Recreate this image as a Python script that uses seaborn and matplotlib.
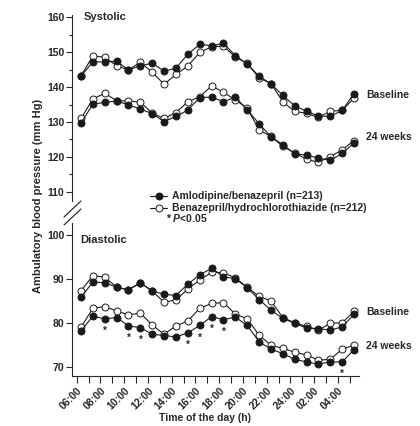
import numpy as np
import pandas as pd
import matplotlib
matplotlib.use("Agg")
import matplotlib.pyplot as plt
from matplotlib.lines import Line2D
import seaborn as sns

# hourly readings, 06:00 -> 05:00
hour_labels = ["06:00", "08:00", "10:00", "12:00", "14:00", "16:00",
               "18:00", "20:00", "22:00", "24:00", "02:00", "04:00"]

sys_base_amlo = [143.1, 147.2, 147.2, 147.4, 144.9, 146.1, 146.8, 144.5, 145.4, 149.4, 152.2, 151.8,
                 152.5, 149.0, 146.6, 143.1, 140.9, 137.6, 134.6, 133.1, 131.7, 131.6, 133.3, 138.1]
sys_base_hctz = [143.2, 148.9, 148.5, 146.1, 144.9, 147.1, 144.2, 140.8, 143.6, 146.0, 149.9, 151.5,
                 151.7, 148.6, 146.8, 142.6, 141.0, 135.8, 133.0, 132.5, 131.3, 133.1, 133.3, 136.8]
sys_24w_amlo = [129.7, 135.1, 135.6, 136.0, 134.9, 133.7, 132.4, 130.1, 131.6, 133.4, 137.0, 137.1,
                135.8, 137.1, 133.5, 129.5, 125.8, 123.5, 120.9, 120.5, 119.7, 119.0, 121.0, 124.0]
sys_24w_hctz = [131.0, 136.6, 138.2, 136.1, 136.0, 135.7, 132.5, 131.0, 132.7, 135.8, 137.2, 140.3,
                138.5, 136.3, 134.0, 127.7, 125.9, 123.0, 121.2, 119.3, 118.5, 120.1, 122.0, 124.7]

dia_base_amlo = [85.8, 89.3, 89.1, 88.1, 87.5, 89.1, 87.2, 86.5, 86.2, 88.8, 90.9, 92.4,
                 90.5, 90.0, 88.0, 85.3, 82.9, 81.0, 79.9, 78.8, 78.7, 78.3, 79.1, 81.9]
dia_base_hctz = [87.3, 90.7, 90.4, 88.1, 87.5, 89.1, 87.2, 84.7, 85.2, 87.7, 89.7, 91.5,
                 91.4, 90.2, 88.1, 86.0, 85.0, 81.2, 80.0, 79.2, 78.3, 79.9, 80.0, 82.6]
dia_24w_amlo = [78.2, 81.5, 80.9, 81.2, 79.3, 78.9, 77.4, 77.1, 76.8, 77.7, 79.4, 81.4,
                80.7, 81.3, 79.4, 75.7, 74.0, 73.0, 71.7, 71.1, 70.6, 71.1, 71.1, 73.9]
dia_24w_hctz = [79.0, 83.3, 83.7, 82.7, 81.8, 82.2, 79.5, 77.4, 79.3, 80.4, 83.3, 84.4,
                84.6, 82.0, 80.9, 77.2, 74.9, 74.2, 73.3, 72.7, 71.5, 71.7, 74.0, 74.9]

# hours (index) where P<0.05 for diastolic at 24 weeks
sig_idx = [2, 4, 5, 9, 10, 11, 12, 22]

sns.set_style("ticks")
plt.rcParams["font.family"] = ["Liberation Sans", "DejaVu Sans"]
plt.rcParams["font.weight"] = "bold"
plt.rcParams["mathtext.fontset"] = "custom"
plt.rcParams["mathtext.it"] = "Liberation Sans:italic:bold"
plt.rcParams["mathtext.rm"] = "Liberation Sans:bold"

xpos = np.arange(24) + 0.36

fig = plt.figure(figsize=(4.2, 4.26), dpi=100)
W, H = 420, 426
ax_top = fig.add_axes([72 / W, 1 - 201 / H, 287 / W, 186 / H])
ax_bot = fig.add_axes([72 / W, 1 - 376 / H, 287 / W, 153 / H])

filled = dict(marker="o", color="#1a1a1a", markerfacecolor="#1a1a1a", markeredgecolor="#1a1a1a",
              markersize=5, markeredgewidth=0.7, linewidth=0.8)
hollow = dict(marker="o", color="#1a1a1a", markerfacecolor="white", markeredgecolor="#1a1a1a",
              markersize=5, markeredgewidth=0.7, linewidth=0.8)

for ax, a_list, h_list in [(ax_top, [sys_base_amlo, sys_24w_amlo], [sys_base_hctz, sys_24w_hctz]),
                           (ax_bot, [dia_base_amlo, dia_24w_amlo], [dia_base_hctz, dia_24w_hctz])]:
    for vals in h_list:
        df = pd.DataFrame({"x": xpos, "y": vals})
        sns.lineplot(data=df, x="x", y="y", ax=ax, **hollow)
    for vals in a_list:
        df = pd.DataFrame({"x": xpos, "y": vals})
        sns.lineplot(data=df, x="x", y="y", ax=ax, **filled)
    ax.set_xlim(-0.4, 23.78)
    ax.set_xlabel("")
    ax.set_ylabel("")
    ax.spines["top"].set_visible(False)
    ax.spines["right"].set_visible(False)
    ax.spines["left"].set_linewidth(0.8)
    ax.spines["bottom"].set_linewidth(0.8)
    ax.tick_params(axis="y", labelsize=7.5, length=4, width=0.8, pad=1.5)

# systolic panel
ax_top.set_ylim(107.4, 160.6)
ax_top.set_yticks([110, 120, 130, 140, 150, 160])
ax_top.set_yticks([115, 125, 135, 145, 155], minor=True)
ax_top.tick_params(axis="y", which="minor", length=2, width=0.8)
ax_top.spines["bottom"].set_visible(False)
ax_top.set_xticks([])
ax_top.text(0.04, 160, "Systolic", fontsize=8, va="center", ha="left",
            transform=ax_top.get_yaxis_transform())
ax_top.text(1.025, 137.7, "Baseline", fontsize=7.5, va="center", ha="left",
            transform=ax_top.get_yaxis_transform())
ax_top.text(1.025, 125.7, "24 weeks", fontsize=7.5, va="center", ha="left",
            transform=ax_top.get_yaxis_transform())

# diastolic panel
ax_bot.set_ylim(67.9, 102.7)
ax_bot.set_yticks([70, 80, 90, 100])
ax_bot.set_xticks(np.arange(24), minor=True)
ax_bot.set_xticks(np.arange(0, 24, 2))
ax_bot.set_xticklabels(hour_labels, rotation=45, ha="right", rotation_mode="anchor")
ax_bot.tick_params(axis="x", which="both", length=5, width=0.8, labelsize=7.5, pad=2)
ax_bot.text(0.03, 98.9, "Diastolic", fontsize=8, va="center", ha="left",
            transform=ax_bot.get_yaxis_transform())
ax_bot.text(1.025, 82.5, "Baseline", fontsize=7.5, va="center", ha="left",
            transform=ax_bot.get_yaxis_transform())
ax_bot.text(1.025, 74.8, "24 weeks", fontsize=7.5, va="center", ha="left",
            transform=ax_bot.get_yaxis_transform())

for i in sig_idx:
    ax_bot.annotate("*", (xpos[i], dia_24w_amlo[i]), xytext=(0, -5), textcoords="offset points",
                    ha="center", va="top", fontsize=7)

# legend
handles = [Line2D([], [], **filled), Line2D([], [], **hollow)]
labels = ["Amlodipine/benazepril (n=213)", "Benazepril/hydrochlorothiazide (n=212)"]
ax_top.legend(handles, labels, loc="upper left", bbox_to_anchor=(145 / W, 1 - 186 / H),
              bbox_transform=fig.transFigure, frameon=False, fontsize=7.5,
              handlelength=1.6, handletextpad=0.5, labelspacing=0.2, borderpad=0)
fig.text(166 / W, 1 - 218 / H, "* $P$<0.05", fontsize=7.5, va="center", ha="left")

# axis break marks
for dy in (0, 8):
    fig.add_artist(Line2D([64 / W, 81 / W], [1 - (217 + dy) / H, 1 - (201 + dy) / H],
                          color="#1a1a1a", linewidth=0.8))

fig.text(38 / W, 1 - 196 / H, "Ambulatory blood pressure (mm Hg)", rotation=90,
         fontsize=8, va="center", ha="center")
fig.text(205 / W, 1 - 418 / H, "Time of the day (h)", fontsize=7.5, va="center", ha="center")

fig.savefig("out.png", dpi=100)
